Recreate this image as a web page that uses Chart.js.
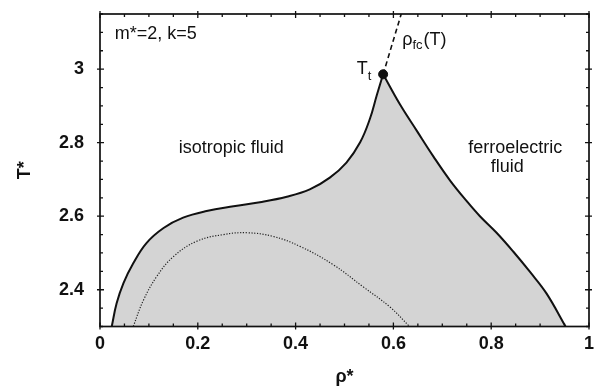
<!DOCTYPE html>
<html>
<head>
<meta charset="utf-8">
<script src="https://cdn.jsdelivr.net/npm/chart.js@4.4.1/dist/chart.umd.min.js"></script>
<style>
  html, body { margin: 0; padding: 0; background: #fff; }
  #wrap { width: 595px; height: 392px; }
</style>
</head>
<body>
<div id="wrap"><canvas id="phase"></canvas></div>
<script>
// axis ticks
var rhoTicks = [0, 0.2, 0.4, 0.6, 0.8, 1];
var tTicks = [2.4, 2.6, 2.8, 3];

// coexistence curve, left branch (isotropic side) up to Tt
var leftRho = [0.024, 0.034, 0.048, 0.068, 0.095, 0.13, 0.17, 0.218, 0.273, 0.327, 0.382, 0.429, 0.47, 0.504, 0.532, 0.552, 0.566, 0.579];
var leftT   = [2.3, 2.363, 2.418, 2.472, 2.527, 2.568, 2.596, 2.614, 2.627, 2.638, 2.653, 2.673, 2.705, 2.746, 2.801, 2.865, 2.929, 2.986];

// coexistence curve, right branch (ferroelectric side) from Tt
var rightRho = [0.579, 0.613, 0.648, 0.682, 0.716, 0.75, 0.777, 0.811, 0.845, 0.879, 0.913, 0.952];
var rightT   = [2.986, 2.905, 2.832, 2.762, 2.697, 2.641, 2.6, 2.555, 2.504, 2.449, 2.39, 2.3];

// dotted curve inside the two-phase region
var dotRho = [0.068, 0.089, 0.116, 0.15, 0.198, 0.252, 0.3, 0.354, 0.409, 0.477, 0.538, 0.593, 0.633];
var dotT   = [2.3, 2.372, 2.436, 2.49, 2.532, 2.55, 2.555, 2.545, 2.518, 2.468, 2.408, 2.353, 2.3];

// rho_fc(T) line above the triple point
var fcRho = [0.579, 0.616];
var fcT   = [2.986, 3.15];

// triple point
var tripleRho = [0.579];
var tripleT   = [2.986];

function pts(xs, ys) {
  return xs.map(function(x, i) { return { x: x, y: ys[i] }; });
}

var shade = "rgb(212,212,212)";
var txtFont = "18px 'Liberation Sans', Arial, sans-serif";
var subFont = "13px 'Liberation Sans', Arial, sans-serif";

// frame, ticks on all four sides and the text labels
var framePlugin = {
  id: "frame",
  afterDatasetsDraw: function(chart) {
    var ctx = chart.ctx;
    var a = chart.chartArea;
    var xs = chart.scales.x, ys = chart.scales.y;
    ctx.save();
    ctx.strokeStyle = "#111";
    ctx.lineWidth = 1.7;
    ctx.strokeRect(a.left, a.top, a.right - a.left, a.bottom - a.top);

    ctx.lineWidth = 1.3;
    ctx.beginPath();
    for (var i = 0; i <= 20; i++) {
      var px = xs.getPixelForValue(i * 0.05);
      var major = (i % 4 === 0);
      var inn = major ? 4 : 3, out = major ? 3 : 0;
      ctx.moveTo(px, a.bottom + out); ctx.lineTo(px, a.bottom - inn);
      ctx.moveTo(px, a.top - out); ctx.lineTo(px, a.top + inn);
    }
    for (var j = 0; j <= 17; j++) {
      var py = ys.getPixelForValue(2.3 + j * 0.05);
      var maj = (j % 4 === 2);
      var ii = maj ? 4 : 3, oo = maj ? 3 : 0;
      ctx.moveTo(a.left - oo, py); ctx.lineTo(a.left + ii, py);
      ctx.moveTo(a.right + oo, py); ctx.lineTo(a.right - ii, py);
    }
    ctx.stroke();

    ctx.fillStyle = "#111";
    ctx.font = txtFont;
    ctx.textBaseline = "middle";
    ctx.textAlign = "left";
    ctx.fillText("m*=2, k=5", xs.getPixelForValue(0.03), ys.getPixelForValue(3.095));
    ctx.fillText("isotropic fluid", xs.getPixelForValue(0.161), ys.getPixelForValue(2.785));
    ctx.fillText("ferroelectric", xs.getPixelForValue(0.753), ys.getPixelForValue(2.785));
    ctx.fillText("fluid", xs.getPixelForValue(0.799), ys.getPixelForValue(2.733));

    // T_t
    var tx = xs.getPixelForValue(0.525), ty = ys.getPixelForValue(3.0);
    ctx.fillText("T", tx, ty);
    var w = ctx.measureText("T").width;
    ctx.font = subFont;
    ctx.fillText("t", tx + w, ty + 7);

    // rho_fc(T)
    var rx = xs.getPixelForValue(0.618), ry = ys.getPixelForValue(3.08);
    ctx.font = txtFont;
    ctx.fillText("\u03c1", rx, ry);
    var w1 = ctx.measureText("\u03c1").width;
    ctx.font = subFont;
    ctx.fillText("fc", rx + w1, ry + 6);
    var w2 = ctx.measureText("fc").width;
    ctx.font = txtFont;
    ctx.fillText("(T)", rx + w1 + w2 + 1, ry);
    ctx.restore();
  }
};

var tickFont = { family: "'Liberation Sans', Arial, sans-serif", size: 18, weight: "bold" };

new Chart(document.getElementById("phase").getContext("2d"), {
  type: "scatter",
  data: {
    datasets: [
      {
        // both branches in one path; the repeated Tt point keeps the cusp sharp
        label: "coexistence",
        data: pts(leftRho.concat(rightRho), leftT.concat(rightT)),
        showLine: true,
        borderColor: "#111",
        borderWidth: 2,
        backgroundColor: shade,
        fill: "start",
        pointRadius: 0,
        tension: 0.4
      },
      {
        label: "dotted",
        data: pts(dotRho, dotT),
        showLine: true,
        borderColor: "#222",
        borderWidth: 1.2,
        borderDash: [1.2, 1.6],
        fill: false,
        pointRadius: 0,
        tension: 0.4
      },
      {
        label: "rho_fc",
        data: pts(fcRho, fcT),
        showLine: true,
        borderColor: "#111",
        borderWidth: 1.6,
        borderDash: [5, 3.5],
        fill: false,
        pointRadius: 0
      },
      {
        label: "Tt",
        data: pts(tripleRho, tripleT),
        showLine: false,
        pointRadius: 4.5,
        pointBackgroundColor: "#111",
        pointBorderColor: "#111"
      }
    ]
  },
  options: {
    responsive: true,
    maintainAspectRatio: false,
    animation: false,
    layout: { padding: { top: 14, right: 6, left: 0, bottom: 0 } },
    plugins: {
      legend: { display: false },
      tooltip: { enabled: false },
      filler: { drawTime: "beforeDatasetsDraw" }
    },
    scales: {
      x: {
        type: "linear",
        min: 0,
        max: 1,
        grid: { display: false, drawTicks: false },
        border: { display: false },
        afterBuildTicks: function(s) { s.ticks = rhoTicks.map(function(v) { return { value: v }; }); },
        afterFit: function(s) { s.height = 65.5; s.paddingLeft = 0; s.paddingRight = 0; },
        ticks: { color: "#111", font: tickFont, padding: 7, maxRotation: 0,
                 callback: function(v) { return String(v); } },
        title: { display: true, text: "\u03c1*", color: "#111", font: tickFont, padding: { top: 0, bottom: 4 } }
      },
      y: {
        type: "linear",
        min: 2.3,
        max: 3.15,
        grid: { display: false, drawTicks: false },
        border: { display: false },
        afterBuildTicks: function(s) { s.ticks = tTicks.map(function(v) { return { value: v }; }); },
        afterFit: function(s) { s.width = 100; s.paddingTop = 0; s.paddingBottom = 0; },
        ticks: { color: "#111", font: tickFont, padding: 16,
                 callback: function(v) { return String(v); } },
        title: { display: true, text: "T*", color: "#111", font: tickFont, padding: { top: 14, bottom: 0 } }
      }
    }
  },
  plugins: [framePlugin]
});
</script>
</body>
</html>
